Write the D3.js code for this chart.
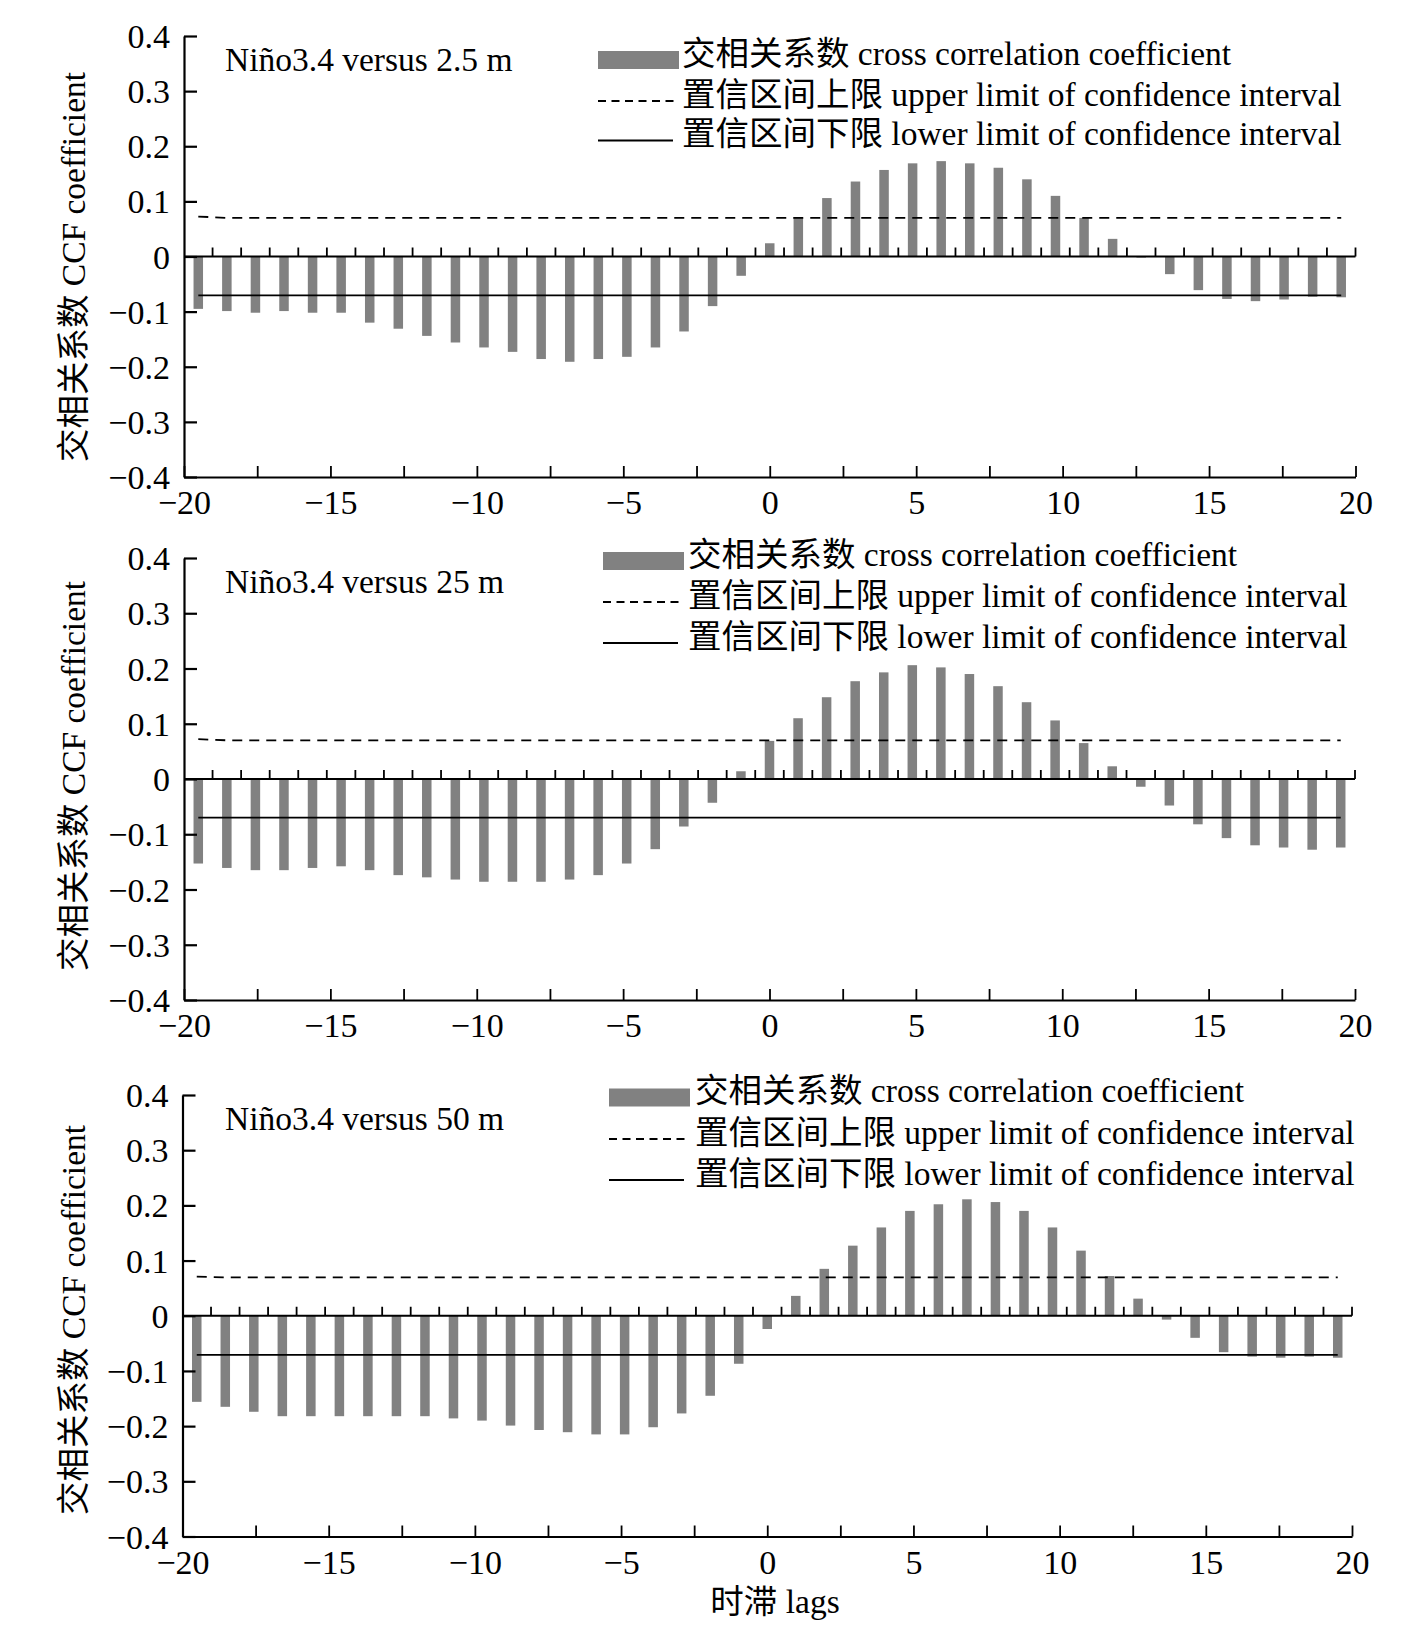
<!DOCTYPE html>
<html>
<head>
<meta charset="utf-8">
<script src="https://cdn.jsdelivr.net/npm/d3@7"></script>
<style>
  body { margin: 0; background: #fff; }
  text { font-family: "Liberation Serif", "Noto Sans CJK SC", serif; fill: #000; }
</style>
</head>
<body>
<div id="chart"></div>
<script>
// lags (categories) -----------------------------------------------------------
const lags = [-20, -19, -18, -17, -16, -15, -14, -13, -12, -11, -10, -9, -8, -7, -6, -5, -4, -3, -2, -1,
  0, 1, 2, 3, 4, 5, 6, 7, 8, 9, 10, 11, 12, 13, 14, 15, 16, 17, 18, 19, 20];

// cross correlation coefficient, Niño3.4 versus each depth
const ccf2_5m = [-0.095, -0.099, -0.102, -0.099, -0.102, -0.102, -0.120, -0.131, -0.144, -0.156,
  -0.165, -0.173, -0.186, -0.191, -0.186, -0.182, -0.165, -0.136, -0.090, -0.035,
  0.024, 0.070, 0.106, 0.136, 0.157, 0.169, 0.173, 0.169, 0.161, 0.140,
  0.110, 0.070, 0.032, -0.002, -0.032, -0.061, -0.077, -0.081, -0.078, -0.073, -0.074];

const ccf25m = [-0.153, -0.161, -0.165, -0.165, -0.161, -0.158, -0.165, -0.174, -0.178, -0.182,
  -0.186, -0.186, -0.186, -0.182, -0.174, -0.153, -0.127, -0.086, -0.043, 0.014,
  0.069, 0.110, 0.148, 0.177, 0.193, 0.206, 0.202, 0.190, 0.168, 0.139,
  0.106, 0.065, 0.023, -0.014, -0.048, -0.082, -0.107, -0.120, -0.124, -0.128, -0.124];

const ccf50m = [-0.156, -0.165, -0.174, -0.182, -0.182, -0.182, -0.182, -0.182, -0.182, -0.186,
  -0.190, -0.199, -0.207, -0.211, -0.215, -0.215, -0.202, -0.177, -0.145, -0.087,
  -0.024, 0.036, 0.085, 0.127, 0.160, 0.190, 0.202, 0.211, 0.206, 0.190,
  0.160, 0.118, 0.072, 0.031, -0.007, -0.040, -0.066, -0.074, -0.076, -0.074, -0.076];

// confidence interval (points along lag)
const confLags = [-20, -19, 20];
const upper2_5m = [0.0725, 0.070, 0.070];
const lower2_5m = [-0.0705, -0.0705, -0.0705];
const upper25m = [0.072, 0.070, 0.070];
const lower25m = [-0.070, -0.070, -0.070];
const upper50m = [0.071, 0.0695, 0.0695];
const lower50m = [-0.071, -0.071, -0.071];

// axis ticks / labels
const yTicks = [0.4, 0.3, 0.2, 0.1, 0, -0.1, -0.2, -0.3, -0.4];
const yTickLabels = ["0.4", "0.3", "0.2", "0.1", "0", "\u22120.1", "\u22120.2", "\u22120.3", "\u22120.4"];
const xTicks = [-20, -17.5, -15, -12.5, -10, -7.5, -5, -2.5, 0, 2.5, 5, 7.5, 10, 12.5, 15, 17.5, 20];
const xLabelTicks = [-20, -15, -10, -5, 0, 5, 10, 15, 20];

const panelTitles = ["Niño3.4 versus 2.5 m", "Niño3.4 versus 25 m", "Niño3.4 versus 50 m"];
const legendLabels = ["交相关系数 cross correlation coefficient",
  "置信区间上限 upper limit of confidence interval",
  "置信区间下限 lower limit of confidence interval"];
const yTitle = "交相关系数 CCF coefficient";
const xTitle = "时滞 lags";

const series = [
  { ccf: ccf2_5m, upper: upper2_5m, lower: lower2_5m },
  { ccf: ccf25m, upper: upper25m, lower: lower25m },
  { ccf: ccf50m, upper: upper50m, lower: lower50m }
];

// layout of each panel (pixel positions)
const layout = [
  { left: 184, right: 1355.5, top: 36, bottom: 477, legX: 598, legY: [60, 101, 140.5], textX: 682, yTitleY: 267 },
  { left: 184, right: 1355, top: 558, bottom: 1000, legX: 603, legY: [561, 602, 643], textX: 688, yTitleY: 776 },
  { left: 182.5, right: 1352, top: 1095, bottom: 1536.5, legX: 609, legY: [1097.5, 1139, 1180], textX: 695, yTitleY: 1320 }
];

const width = 1414, height = 1641;
const fontSize = 33.5;
const tickFont = 34;
const barColor = "#818181";
const barWidth = 9.5;

const svg = d3.select("#chart").append("svg")
  .attr("width", width)
  .attr("height", height);

series.forEach((s, i) => drawPanel(s, layout[i], panelTitles[i]));

// x axis title, shared
svg.append("text")
  .attr("x", 775)
  .attr("y", 1613)
  .attr("text-anchor", "middle")
  .style("font-size", fontSize + "px")
  .text(xTitle);

function drawPanel(s, L, title) {
  const g = svg.append("g");

  const y = d3.scaleLinear().domain([-0.4, 0.4]).range([L.bottom, L.top]);
  const xBand = d3.scaleBand().domain(lags).range([L.left, L.right]);
  const xLin = d3.scaleLinear().domain([-20, 20]).range([L.left, L.right]);
  const step = xBand.step();
  const cx = d => xBand(d) + step / 2;

  // bars
  g.selectAll("rect.bar")
    .data(lags.map((lag, j) => ({ lag, v: s.ccf[j] })))
    .join("rect")
    .attr("class", "bar")
    .attr("x", d => cx(d.lag) - barWidth / 2)
    .attr("width", barWidth)
    .attr("y", d => y(Math.max(0, d.v)))
    .attr("height", d => Math.abs(y(d.v) - y(0)))
    .attr("fill", barColor);

  // confidence lines
  const line = d3.line()
    .x(d => cx(d[0]))
    .y(d => y(d[1]));

  g.append("path")
    .datum(confLags.map((l, j) => [l, s.upper[j]]))
    .attr("d", line)
    .attr("fill", "none")
    .attr("stroke", "#000")
    .attr("stroke-width", 1.8)
    .attr("stroke-dasharray", "10,7");

  g.append("path")
    .datum(confLags.map((l, j) => [l, s.lower[j]]))
    .attr("d", line)
    .attr("fill", "none")
    .attr("stroke", "#000")
    .attr("stroke-width", 1.8);

  // zero line with category ticks
  g.append("line")
    .attr("x1", L.left).attr("x2", L.right)
    .attr("y1", y(0)).attr("y2", y(0))
    .attr("stroke", "#000")
    .attr("stroke-width", 2);

  g.selectAll("line.cat")
    .data(lags)
    .join("line")
    .attr("class", "cat")
    .attr("x1", d => xBand(d) + step).attr("x2", d => xBand(d) + step)
    .attr("y1", y(0)).attr("y2", y(0) - 9)
    .attr("stroke", "#000")
    .attr("stroke-width", 1.8);

  // y axis
  const yAxis = d3.axisLeft(y)
    .tickValues(yTicks)
    .tickSizeInner(-13)
    .tickSizeOuter(0)
    .tickPadding(14)
    .tickFormat((d, j) => yTickLabels[j]);

  g.append("g")
    .attr("transform", `translate(${L.left},0)`)
    .call(yAxis)
    .call(a => a.select(".domain").attr("stroke-width", 2.2))
    .call(a => a.selectAll(".tick line").attr("stroke-width", 2.2))
    .call(a => a.selectAll("text")
      .style("font-size", tickFont + "px")
      .style("font-family", "'Liberation Serif', serif")
      .attr("dy", "0.34em"));

  // bottom axis
  const xAxis = d3.axisBottom(xLin)
    .tickValues(xTicks)
    .tickSizeInner(-11)
    .tickSizeOuter(0)
    .tickPadding(13)
    .tickFormat(d => xLabelTicks.includes(d) ? (d < 0 ? "\u2212" + Math.abs(d) : String(d)) : "");

  g.append("g")
    .attr("transform", `translate(0,${L.bottom})`)
    .call(xAxis)
    .call(a => a.select(".domain").attr("stroke-width", 2.2))
    .call(a => a.selectAll(".tick line").attr("stroke-width", 1.8))
    .call(a => a.selectAll("text")
      .style("font-size", tickFont + "px")
      .style("font-family", "'Liberation Serif', serif"));

  // panel title
  g.append("text")
    .attr("x", 225)
    .attr("y", L.top + 35)
    .style("font-size", fontSize + "px")
    .text(title);

  // y axis title
  g.append("text")
    .attr("transform", `translate(85,${L.yTitleY}) rotate(-90)`)
    .attr("text-anchor", "middle")
    .style("font-size", fontSize + "px")
    .text(yTitle);

  // legend
  const leg = g.append("g");
  leg.append("rect")
    .attr("x", L.legX).attr("y", L.legY[0] - 9)
    .attr("width", 81).attr("height", 18)
    .attr("fill", barColor);
  leg.append("line")
    .attr("x1", L.legX).attr("x2", L.legX + 78)
    .attr("y1", L.legY[1]).attr("y2", L.legY[1])
    .attr("stroke", "#000").attr("stroke-width", 1.8)
    .attr("stroke-dasharray", "8,5.5");
  leg.append("line")
    .attr("x1", L.legX).attr("x2", L.legX + 75)
    .attr("y1", L.legY[2]).attr("y2", L.legY[2])
    .attr("stroke", "#000").attr("stroke-width", 1.8);

  leg.selectAll("text")
    .data(legendLabels)
    .join("text")
    .attr("x", L.textX)
    .attr("y", (d, j) => L.legY[j] + 4.5)
    .style("font-size", fontSize + "px")
    .text(d => d);
}
</script>
</body>
</html>
